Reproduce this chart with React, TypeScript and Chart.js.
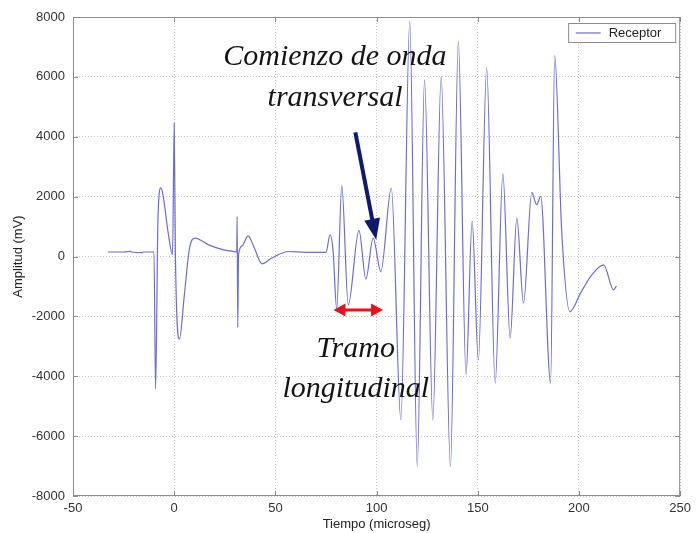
import React, { useEffect, useRef } from 'react';
import { Chart, registerables } from 'chart.js';

Chart.register(...registerables);

// Time (microseconds) and amplitude (mV)
const timeUs = [
  -32.8, -25, -21.5, -21.2, -15.8, -15.5, -10, -9.2, -8.0, -6.6, -5.5, -3, -0.8, 0, 0.6, 2.6, 5, 7.5, 10.3, 17, 24, 29,
  30.9, 31.1, 31.4, 31.8, 33.5, 36.5, 39.5, 43.4, 48, 56.5, 65, 75, 77, 78.5, 80.3, 82.8, 86, 91.3, 94.7, 98.3, 102.1,
  107.3, 112, 116.4, 120.1, 123.7, 127.8, 131.9, 136.5, 140.4, 144.2, 147.2, 150.3, 154.4, 158.6, 162.4, 166, 169.3,
  172.6, 176.7, 179.1, 181.1, 186, 188, 191.5, 195.5, 200.8, 205.7, 212.2, 217.1, 218.5,
];
const amplitudeMv = [
  150, 150, 175, 150, 130, 150, 150, -4425, 1300, 2290, 2050, 800, 60, 4460, 40, -2760, -1300, 250, 615, 390, 230, 170,
  150, 1340, -2375, 50, 350, 690, 300, -244, -60, 167, 140, 140, 726, 200, -1759, 2365, -1615, 870, -756, 615, -502,
  2288, -5462, 7860, -7023, 5910, -5462, 6020, -7023, 7191, -3957, 1171, -3455, 6301, -4234, 2766, -2729, 1284,
  -1559, 2140, 1729, 2007, -4234, 6712, 800, -1839, -1224, -669, -278, -1114, -980,
];
const seriesLabel = 'Receptor';
const xTickValues = [-50, 0, 50, 100, 150, 200, 250];
const yTickValues = [-8000, -6000, -4000, -2000, 0, 2000, 4000, 6000, 8000];

// Annotations (anchored in data coordinates)
const textNotes = [
  { text: 'Comienzo de onda', t: 79.4, v: 6411 },
  { text: 'transversal', t: 79.5, v: 5017 },
  { text: 'Tramo', t: 89.7, v: -3344 },
  { text: 'longitudinal', t: 89.7, v: -4682 },
];
const navyArrow = { t1: 89.5, v1: 4150, t2: 99.8, v2: 560 };
const redArrow = { t1: 78.7, t2: 103.2, v: -1790 };

const LINE_COLOR = 'rgba(92,92,212,0.9)';

function head(ctx: CanvasRenderingContext2D, x1: number, y1: number, x2: number, y2: number, len: number, half: number) {
  const a = Math.atan2(y2 - y1, x2 - x1);
  const c = Math.cos(a), s = Math.sin(a);
  ctx.beginPath();
  ctx.moveTo(x2, y2);
  ctx.lineTo(x2 - len * c + half * s, y2 - len * s - half * c);
  ctx.lineTo(x2 - len * c - half * s, y2 - len * s + half * c);
  ctx.closePath();
  ctx.fill();
}

const decorPlugin = {
  id: 'decor',
  afterDatasetsDraw(chart: any) {
    const { ctx, chartArea } = chart;
    const xs = chart.scales.x, ys = chart.scales.y;
    ctx.save();
    // frame
    ctx.strokeStyle = '#8c8c8c';
    ctx.lineWidth = 1;
    ctx.strokeRect(chartArea.left + 0.5, chartArea.top + 0.5, chartArea.right - chartArea.left - 1, chartArea.bottom - chartArea.top - 1);
    // inward tick marks
    ctx.beginPath();
    xTickValues.forEach((t) => {
      const px = Math.round(xs.getPixelForValue(t)) + 0.5;
      ctx.moveTo(px, chartArea.bottom); ctx.lineTo(px, chartArea.bottom - 5);
      ctx.moveTo(px, chartArea.top); ctx.lineTo(px, chartArea.top + 5);
    });
    yTickValues.forEach((v) => {
      const py = Math.round(ys.getPixelForValue(v)) + 0.5;
      ctx.moveTo(chartArea.left, py); ctx.lineTo(chartArea.left + 5, py);
      ctx.moveTo(chartArea.right, py); ctx.lineTo(chartArea.right - 5, py);
    });
    ctx.stroke();

    // navy arrow
    {
      const x1 = xs.getPixelForValue(navyArrow.t1), y1 = ys.getPixelForValue(navyArrow.v1);
      const x2 = xs.getPixelForValue(navyArrow.t2), y2 = ys.getPixelForValue(navyArrow.v2);
      const a = Math.atan2(y2 - y1, x2 - x1);
      ctx.strokeStyle = '#0d1a6e';
      ctx.fillStyle = '#0d1a6e';
      ctx.lineWidth = 4;
      ctx.beginPath();
      ctx.moveTo(x1, y1);
      ctx.lineTo(x2 - 16 * Math.cos(a), y2 - 16 * Math.sin(a));
      ctx.stroke();
      head(ctx, x1, y1, x2, y2, 21, 8);
    }
    // red double arrow
    {
      const x1 = xs.getPixelForValue(redArrow.t1), x2 = xs.getPixelForValue(redArrow.t2);
      const y = ys.getPixelForValue(redArrow.v);
      ctx.strokeStyle = '#e3141c';
      ctx.fillStyle = '#e3141c';
      ctx.lineWidth = 3;
      ctx.beginPath();
      ctx.moveTo(x1 + 8, y);
      ctx.lineTo(x2 - 8, y);
      ctx.stroke();
      head(ctx, x1, y, x2, y, 12, 6.5);
      head(ctx, x2, y, x1, y, 12, 6.5);
    }
    // texts
    ctx.fillStyle = '#141414';
    ctx.font = 'italic 30px "Liberation Serif", "DejaVu Serif", serif';
    ctx.textAlign = 'center';
    ctx.textBaseline = 'alphabetic';
    textNotes.forEach((n) => {
      ctx.fillText(n.text, xs.getPixelForValue(n.t), ys.getPixelForValue(n.v));
    });

    // legend box
    const bw = 107, bh = 19;
    const bx = chartArea.right - 5 - bw + 0.5, by = chartArea.top + 6.5;
    ctx.fillStyle = '#ffffff';
    ctx.fillRect(bx, by, bw, bh);
    ctx.strokeStyle = '#8c8c8c';
    ctx.lineWidth = 1;
    ctx.strokeRect(bx, by, bw, bh);
    ctx.strokeStyle = LINE_COLOR;
    ctx.lineWidth = 1.2;
    ctx.beginPath();
    ctx.moveTo(bx + 7, by + bh / 2);
    ctx.lineTo(bx + 32, by + bh / 2);
    ctx.stroke();
    ctx.fillStyle = '#222';
    ctx.font = '13px "Liberation Sans", Arial, sans-serif';
    ctx.textAlign = 'left';
    ctx.textBaseline = 'middle';
    ctx.fillText(chart.data.datasets[0].label, bx + 40, by + bh / 2 + 0.5);
    ctx.restore();
  },
};

export default function App() {
  const ref = useRef<HTMLCanvasElement | null>(null);
  useEffect(() => {
    if (!ref.current) return;
    const points = timeUs.map((t, i) => ({ x: t, y: amplitudeMv[i] }));
    const tickFont = { family: '"Liberation Sans", Arial, sans-serif', size: 13 };
    const plain = (v: any) => String(v);
    const chart = new Chart(ref.current, {
      type: 'line',
      data: {
        datasets: [
          {
            label: seriesLabel,
            data: points,
            borderColor: LINE_COLOR,
            borderWidth: 1.2,
            pointRadius: 0,
            cubicInterpolationMode: 'monotone',
            fill: false,
          },
        ],
      },
      options: {
        animation: false,
        responsive: true,
        maintainAspectRatio: false,
        layout: { padding: { top: 17, right: 13, left: 0, bottom: 0 } },
        plugins: { legend: { display: false }, tooltip: { enabled: false } },
        scales: {
          x: {
            type: 'linear',
            min: -50,
            max: 250,
            afterFit: (s: any) => { s.height = 37; },
            afterBuildTicks: (s: any) => { s.ticks = xTickValues.map((v) => ({ value: v })); },
            ticks: { color: '#333', font: tickFont, padding: 5, maxRotation: 0, callback: plain },
            grid: { color: '#c4c4c4', drawTicks: false, lineWidth: 1 },
            border: { display: false, dash: [1, 2] },
            title: { display: true, text: 'Tiempo (microseg)', color: '#222', font: tickFont, padding: { top: 0, bottom: 1 } },
          },
          y: {
            type: 'linear',
            min: -8000,
            max: 8000,
            afterFit: (s: any) => { s.width = 73; },
            afterBuildTicks: (s: any) => { s.ticks = yTickValues.map((v) => ({ value: v })); },
            ticks: { color: '#333', font: tickFont, padding: 8, callback: plain },
            grid: { color: '#c4c4c4', drawTicks: false, lineWidth: 1 },
            border: { display: false, dash: [1, 2] },
            title: { display: true, text: 'Amplitud (mV)', color: '#222', font: tickFont, padding: { top: 11, bottom: 0 } },
          },
        },
      },
      plugins: [decorPlugin],
    } as any);
    return () => chart.destroy();
  }, []);
  return (
    <div style={{ position: 'fixed', left: 0, top: 0, width: 696, height: 533, background: '#fff' }}>
      <canvas ref={ref} />
    </div>
  );
}
